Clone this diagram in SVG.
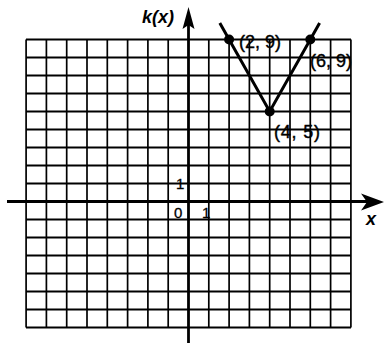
<svg xmlns="http://www.w3.org/2000/svg" width="385" height="343" viewBox="0 0 385 343">
<style>
.bg{fill:#fff}
.h{stroke:#000;stroke-width:2.2}
.v{stroke:#000;stroke-width:1.7}
.axis{stroke:#000;stroke-width:2.8;fill:none}
.graph{stroke:#000;stroke-width:3;fill:none;stroke-linejoin:miter}
.dot{fill:#000}
.lbl{font-family:"Liberation Sans",Arial,sans-serif;font-size:18px;fill:#000;stroke:#000;stroke-width:0.4}
.ax{font-family:"Liberation Sans",Arial,sans-serif;font-size:18px;font-weight:bold;font-style:italic;fill:#000}
.num{font-family:"Liberation Sans",Arial,sans-serif;font-size:15px;fill:#000;stroke:#000;stroke-width:0.3}
.head{fill:#000}
</style>
<rect class="bg" x="0" y="0" width="385" height="343"/>
<g id="grid">
<g class="h">
<line x1="26" y1="39.5" x2="351" y2="39.5"/>
<line x1="26" y1="57.5" x2="351" y2="57.5"/>
<line x1="26" y1="75.5" x2="351" y2="75.5"/>
<line x1="26" y1="93.5" x2="351" y2="93.5"/>
<line x1="26" y1="111.5" x2="351" y2="111.5"/>
<line x1="26" y1="129.5" x2="351" y2="129.5"/>
<line x1="26" y1="147.5" x2="351" y2="147.5"/>
<line x1="26" y1="165.5" x2="351" y2="165.5"/>
<line x1="26" y1="183.5" x2="351" y2="183.5"/>
<line x1="26" y1="219.5" x2="351" y2="219.5"/>
<line x1="26" y1="237.5" x2="351" y2="237.5"/>
<line x1="26" y1="255.5" x2="351" y2="255.5"/>
<line x1="26" y1="273.5" x2="351" y2="273.5"/>
<line x1="26" y1="291.5" x2="351" y2="291.5"/>
<line x1="26" y1="309.5" x2="351" y2="309.5"/>
<line x1="26" y1="327.5" x2="351" y2="327.5"/>
</g>
<g class="v">
<line x1="26.1" y1="39.5" x2="26.1" y2="327.5"/>
<line x1="46.4" y1="39.5" x2="46.4" y2="327.5"/>
<line x1="66.7" y1="39.5" x2="66.7" y2="327.5"/>
<line x1="87" y1="39.5" x2="87" y2="327.5"/>
<line x1="107.3" y1="39.5" x2="107.3" y2="327.5"/>
<line x1="127.6" y1="39.5" x2="127.6" y2="327.5"/>
<line x1="147.9" y1="39.5" x2="147.9" y2="327.5"/>
<line x1="168.2" y1="39.5" x2="168.2" y2="327.5"/>
<line x1="208.8" y1="39.5" x2="208.8" y2="327.5"/>
<line x1="229.1" y1="39.5" x2="229.1" y2="327.5"/>
<line x1="249.4" y1="39.5" x2="249.4" y2="327.5"/>
<line x1="269.7" y1="39.5" x2="269.7" y2="327.5"/>
<line x1="290" y1="39.5" x2="290" y2="327.5"/>
<line x1="310.3" y1="39.5" x2="310.3" y2="327.5"/>
<line x1="330.6" y1="39.5" x2="330.6" y2="327.5"/>
<line x1="350.9" y1="39.5" x2="350.9" y2="327.5"/>
</g>
</g>
<g id="axes">
<line class="axis" x1="7" y1="201.5" x2="372" y2="201.5"/>
<path class="head" d="M384,202 L361,193.5 L367,202 L361,210.5 Z"/>
<line class="axis" x1="188.5" y1="343" x2="188.5" y2="20"/>
<path class="head" d="M188.5,7 L182.5,29 L188.5,25 L194.5,29 Z"/>
<text class="ax" x="142" y="23">k(x)</text>
<text class="ax" x="366" y="225">x</text>
<text class="num" x="176" y="189">1</text>
<text class="num" x="174" y="218">0</text>
<text class="num" x="202" y="218">1</text>
</g>
<g id="graph">
<polyline class="graph" points="219.8,23 269.7,111.5 319.6,23"/>
<circle class="dot" cx="229.1" cy="39.5" r="5"/>
<circle class="dot" cx="310.3" cy="39.5" r="5"/>
<circle class="dot" cx="269.7" cy="111.5" r="5"/>
<text class="lbl" x="239" y="48">(2, 9)</text>
<text class="lbl" x="310" y="67">(6, 9)</text>
<text class="lbl" x="274" y="138" letter-spacing="0.8">(4, 5)</text>
</g>
</svg>
